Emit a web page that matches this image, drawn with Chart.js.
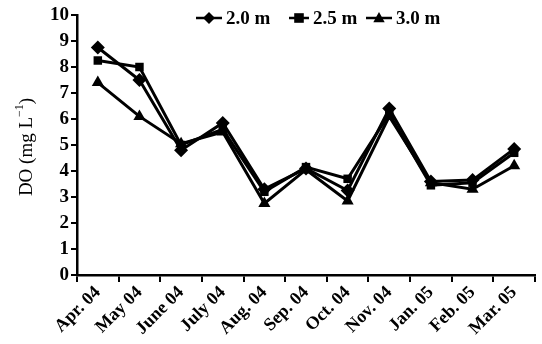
<!DOCTYPE html>
<html><head><meta charset="utf-8">
<script src="https://cdn.jsdelivr.net/npm/chart.js@4/dist/chart.umd.min.js"></script>
<style>html,body{margin:0;padding:0;background:#fff}#wrap{width:542px;height:344px}</style>
</head><body><div id="wrap"><canvas id="c" width="542" height="344"></canvas></div>
<script>
const categories = ["Apr. 04","May 04","June 04","July 04","Aug. 04","Sep. 04","Oct. 04","Nov. 04","Jan. 05","Feb. 05","Mar. 05"];
const depth20 = [8.75, 7.5, 4.8, 5.85, 3.3, 4.1, 3.25, 6.4, 3.6, 3.65, 4.85];
const depth25 = [8.25, 8.0, 5.0, 5.6, 3.2, 4.15, 3.7, 6.2, 3.45, 3.55, 4.7];
const depth30 = [7.4, 6.1, 5.05, 5.5, 2.75, 4.05, 2.85, 6.1, 3.55, 3.3, 4.2];
const seriesNames = ["2.0 m","2.5 m","3.0 m"];
const yTicks = [0,1,2,3,4,5,6,7,8,9,10];

const FONT = "'Liberation Serif', 'Times New Roman', serif";

function drawMarker(ctx, style, x, y, r){
  ctx.beginPath();
  if(style==='rectRot'){ctx.moveTo(x,y-r);ctx.lineTo(x+r,y);ctx.lineTo(x,y+r);ctx.lineTo(x-r,y);}
  else if(style==='rect'){ctx.rect(x-r*0.8,y-r*0.8,r*1.6,r*1.6);}
  else {ctx.moveTo(x,y-r);ctx.lineTo(x+r*0.95,y+r*0.7);ctx.lineTo(x-r*0.95,y+r*0.7);}
  ctx.closePath();ctx.fill();
}

const legendPlugin = {
  id:'customLegend',
  afterDraw(chart){
    const ctx = chart.ctx;
    ctx.save();
    ctx.fillStyle='#000';ctx.strokeStyle='#000';ctx.lineWidth=2.5;
    ctx.font = "bold 19px " + FONT;
    ctx.textBaseline='middle';
    const items = [{x0:196,x1:222,style:'rectRot'},{x0:289,x1:309,style:'rect'},{x0:366,x1:392,style:'triangle'}];
    const y = 18;
    chart.data.datasets.forEach((ds,i)=>{
      const it = items[i];
      ctx.beginPath();ctx.moveTo(it.x0,y);ctx.lineTo(it.x1,y);ctx.stroke();
      drawMarker(ctx, ds.pointStyle, (it.x0+it.x1)/2, y, 6);
      ctx.fillText(ds.label, it.x1+4, y+1);
    });
    // y axis title with superscript
    ctx.translate(32, chart.chartArea.top + (chart.chartArea.bottom-chart.chartArea.top)/2 + 2);
    ctx.rotate(-Math.PI/2);
    ctx.textBaseline='alphabetic';
    const a="DO (mg L", b="\u22121", c=")";
    ctx.font = "19px " + FONT; const wa=ctx.measureText(a).width;
    ctx.font = "12px " + FONT; const wb=ctx.measureText(b).width;
    ctx.font = "19px " + FONT; const wc=ctx.measureText(c).width;
    let x = -(wa+wb+wc)/2;
    ctx.fillText(a,x,0); x+=wa;
    ctx.font = "12px " + FONT; ctx.fillText(b,x,-9); x+=wb;
    ctx.font = "19px " + FONT; ctx.fillText(c,x,0);
    ctx.restore();
  }
};

const mk = (label,data,style,r)=>({label,data,pointStyle:style,pointRadius:r,pointHoverRadius:r,
  borderColor:'#000',backgroundColor:'#000',pointBackgroundColor:'#000',pointBorderColor:'#000',pointBorderWidth:0,borderWidth:3,tension:0,fill:false});

new Chart(document.getElementById('c'),{
  type:'line',
  data:{labels:categories,datasets:[
    mk(seriesNames[0],depth20,'rectRot',7),
    mk(seriesNames[1],depth25,'rect',6),
    mk(seriesNames[2],depth30,'triangle',7)
  ]},
  options:{
    responsive:false,animation:false,devicePixelRatio:1,
    layout:{padding:{top:15,right:1,left:0,bottom:0}},
    plugins:{legend:{display:false},tooltip:{enabled:false}},
    scales:{
      x:{offset:true,
        grid:{display:true,offset:true,drawOnChartArea:false,drawTicks:true,tickLength:7,color:'#000',lineWidth:2},
        border:{display:true,color:'#000',width:2.5},
        ticks:{color:'#000',font:{family:FONT,size:18,weight:'bold'},maxRotation:45,minRotation:45,padding:0,autoSkip:false},
        afterFit(s){s.height=69;}
      },
      y:{min:0,max:10,
        afterBuildTicks(s){s.ticks=yTicks.map(v=>({value:v}));},
        grid:{display:true,drawOnChartArea:false,drawTicks:true,tickLength:6,color:'#000',lineWidth:2},
        border:{display:true,color:'#000',width:2.5},
        ticks:{color:'#000',font:{family:FONT,size:19,weight:'bold'},padding:2},
        afterFit(s){s.width=77;}
      }
    }
  },
  plugins:[legendPlugin]
});
</script></body></html>
